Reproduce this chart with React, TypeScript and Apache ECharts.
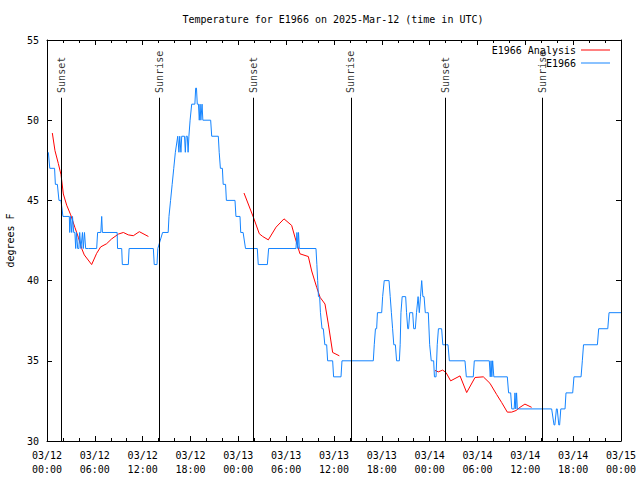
import React, { useEffect, useRef } from 'react';
import * as echarts from 'echarts';

const BASE_UTC = Date.UTC(2025, 2, 12, 0, 0, 0);
const FONT = "'DejaVu Sans Mono', monospace";

const titleText = 'Temperature for E1966 on 2025-Mar-12 (time in UTC)';
const yAxisName = 'degrees F';
const seriesNames = ['E1966 Analysis', 'E1966'];

// Observed temperatures (hours since 03/12 00:00 UTC, degrees F)
const obsHours = [
  0.17, 0.35, 0.95, 1.05, 1.3, 1.5, 1.75, 2.0, 2.8, 2.85, 2.95, 3.1, 3.2, 3.35, 3.5, 3.6, 3.7, 3.85, 4.0, 4.1,
  4.25, 4.45, 4.55, 4.7, 4.85, 5.19, 6.23, 6.35, 6.75, 6.86, 6.95, 8.8, 8.85, 9.37, 9.45, 10.2, 10.3, 13.34, 13.45, 13.8,
  13.9, 14.5, 15.2, 15.3, 15.5, 15.7, 15.9, 16.1, 16.4, 16.55, 16.65, 16.8, 16.9, 17.25, 17.35, 17.45, 17.6, 17.7, 17.8, 17.95,
  18.15, 18.55, 18.65, 18.75, 18.85, 19.0, 19.1, 19.2, 19.3, 19.45, 19.55, 19.69, 20.53, 20.66, 21.49, 21.6, 21.75, 22.0, 22.1, 22.4,
  22.5, 23.58, 23.7, 24.21, 24.3, 24.6, 24.9, 26.38, 26.5, 27.64, 27.8, 31.23, 31.35, 31.45, 31.55, 31.65, 33.74, 33.85, 33.95, 34.05,
  34.2, 34.3, 34.5, 34.66, 34.85, 35.08, 35.2, 35.83, 35.95, 36.88, 37.0, 40.93, 41.05, 41.2, 41.35, 41.45, 41.98, 42.1, 42.3, 42.9,
  43.05, 43.2, 43.35, 43.5, 43.7, 43.85, 44.2, 44.3, 44.4, 44.55, 44.99, 45.1, 45.25, 45.35, 45.5, 45.87, 46.0, 46.2, 46.35, 46.55,
  46.7, 46.85, 47.0, 47.15, 47.3, 47.45, 47.6, 47.83, 48.0, 48.2, 48.5, 48.6, 48.8, 48.95, 49.1, 49.5, 49.65, 50.3, 50.47, 52.43,
  52.6, 53.47, 53.6, 55.48, 55.6, 55.7, 55.8, 55.9, 56.05, 57.74, 57.9, 58.16, 58.3, 58.6, 58.7, 58.8, 58.9, 59.0, 63.3, 63.6,
  63.7, 63.9, 64.0, 64.2, 64.3, 64.45, 64.98, 65.1, 65.94, 66.1, 66.99, 67.15, 67.3, 69.04, 69.2, 70.34, 70.5, 72.0,
];
const obsTemps = [
  48, 47, 47, 46, 46, 45, 45, 44, 44, 43, 44, 43, 44, 43, 43, 42, 43, 42, 42, 43,
  42, 43, 42, 43, 42, 42, 42, 43, 43, 44, 43, 43, 42, 42, 41, 41, 42, 42, 41, 41,
  42, 43, 43, 44, 45, 46, 47, 48, 49, 48, 49, 48, 49, 49, 48, 49, 49, 48, 49, 50,
  51, 51, 52, 52, 51, 51, 50, 51, 50, 51, 50, 50, 50, 49, 49, 48, 47, 47, 46, 46,
  45, 45, 44, 44, 43, 43, 42, 42, 41, 41, 42, 42, 43, 42, 43, 42, 42, 41, 40, 39,
  39, 38, 37, 37, 36, 36, 35, 35, 34, 34, 35, 35, 36, 37, 37, 38, 38, 39, 40, 40,
  39, 38, 37, 36, 36, 35, 35, 36, 38, 39, 39, 38, 37, 37, 38, 38, 37, 37, 38, 39,
  38, 39, 40, 39, 39, 38, 38, 38, 36, 35, 35, 34, 34, 36, 37, 37, 36, 36, 35, 35,
  34, 34, 35, 35, 34, 35, 34, 35, 34, 34, 33, 33, 32, 32, 33, 32, 33, 32, 32, 31,
  31, 32, 32, 31, 31, 32, 32, 33, 33, 34, 34, 35, 36, 36, 37, 37, 38, 38,
];

// Analysis temperatures, three separate runs
const ana1Hours = [0.67, 1.0, 1.42, 1.76, 2.05, 2.47, 2.97, 3.51, 3.93, 4.35, 4.68, 5.6, 6.23, 6.73, 7.48, 8.11, 8.95, 9.58, 10.2, 10.83, 11.58, 12.72];
const ana1Temps = [49.2, 48.1, 47.3, 46.6, 45.4, 44.7, 44.1, 43.3, 42.7, 42.0, 41.6, 41.0, 41.7, 42.1, 42.3, 42.6, 42.9, 43.0, 42.85, 42.8, 43.05, 42.75];
const ana2Hours = [24.71, 25.88, 26.63, 27.06, 27.76, 28.73, 29.73, 30.69, 31.1, 31.73, 32.78, 33.2, 33.83, 34.25, 34.87, 35.29, 35.83, 36.67];
const ana2Temps = [45.46, 43.96, 42.92, 42.75, 42.54, 43.33, 43.85, 43.44, 42.71, 41.67, 41.5, 40.6, 39.58, 38.96, 38.54, 37.29, 35.52, 35.31];
const ana3Hours = [48.67, 49.09, 49.63, 50.05, 50.63, 51.81, 52.64, 53.69, 54.73, 55.56, 56.4, 57.03, 57.74, 58.28, 58.83, 59.33, 59.95, 60.79];
const ana3Temps = [34.4, 34.31, 34.42, 34.27, 33.75, 34.06, 33.02, 33.96, 34.0, 33.6, 32.9, 32.4, 31.8, 31.8, 31.9, 32.1, 32.3, 32.1];

// Sun events
const sunHours = [1.76, 14.07, 25.88, 38.13, 50.0, 62.13];
const sunLabels = ['Sunset', 'Sunrise', 'Sunset', 'Sunrise', 'Sunset', 'Sunrise'];
const sunLineTop = 51.4;
const sunLabelBase = 51.7;

const pad = (n: number) => (n < 10 ? '0' + n : '' + n);
const fmtHour = (h: number) => {
  const d = new Date(BASE_UTC + h * 3600000);
  return `${pad(d.getUTCMonth() + 1)}/${pad(d.getUTCDate())}\n${pad(d.getUTCHours())}:${pad(d.getUTCMinutes())}`;
};

export default function App() {
  const ref = useRef<HTMLDivElement>(null);
  useEffect(() => {
    if (!ref.current) return;
    const chart = echarts.init(ref.current, undefined, { renderer: 'svg' });

    const anaData: any[] = [];
    [[ana1Hours, ana1Temps], [ana2Hours, ana2Temps], [ana3Hours, ana3Temps]].forEach(([hs, ts], i) => {
      if (i > 0) anaData.push([hs[0] - 0.5, null]);
      hs.forEach((h, j) => anaData.push([h, ts[j]]));
    });
    const obsData = obsHours.map((h, i) => [h, obsTemps[i]]);
    const sunData = sunHours.map((h, i) => ({ name: sunLabels[i], value: [h, sunLabelBase] }));
    const sunLines = sunHours.map((h) => [{ coord: [h, 30] }, { coord: [h, sunLineTop] }]);

    const axisCommon = {
      axisLine: { show: true, onZero: false, lineStyle: { color: '#000', width: 1 } },
      splitLine: { show: false },
    };

    chart.setOption({
      animation: false,
      backgroundColor: '#fff',
      textStyle: { fontFamily: FONT },
      title: {
        text: titleText,
        left: 328,
        textAlign: 'center',
        top: 9,
        textStyle: { fontFamily: FONT, fontSize: 10, fontWeight: 'normal', color: '#000' },
      },
      legend: {
        data: seriesNames,
        orient: 'vertical',
        right: 25,
        top: 39,
        align: 'right',
        icon: 'rect',
        itemWidth: 29,
        itemHeight: 1,
        itemGap: 1,
        textStyle: { fontFamily: FONT, fontSize: 10, color: '#000', width: 86, align: 'right', lineHeight: 12 },
      },
      grid: { left: 47, right: 19, top: 40, bottom: 39, containLabel: false, outerBoundsMode: 'none' },
      xAxis: [
        {
          type: 'value', min: 0, max: 72, interval: 6, position: 'bottom',
          ...axisCommon,
          axisTick: { show: true, inside: true, length: 5, lineStyle: { color: '#000' } },
          minorTick: { show: true, splitNumber: 3, length: 3, lineStyle: { color: '#000' } },
          minorSplitLine: { show: false },
          axisLabel: { formatter: fmtHour, color: '#000', fontFamily: FONT, fontSize: 10, lineHeight: 14, margin: 7 },
        },
        {
          type: 'value', min: 0, max: 72, interval: 6, position: 'top',
          ...axisCommon,
          axisTick: { show: true, inside: true, length: 5, lineStyle: { color: '#000' } },
          minorTick: { show: true, splitNumber: 3, length: 3, lineStyle: { color: '#000' } },
          minorSplitLine: { show: false },
          axisLabel: { show: false },
        },
      ],
      yAxis: [
        {
          type: 'value', min: 30, max: 55, interval: 5, position: 'left',
          ...axisCommon,
          axisTick: { show: true, inside: true, length: 5, lineStyle: { color: '#000' } },
          axisLabel: { color: '#000', fontFamily: FONT, fontSize: 10, margin: 8 },
          name: yAxisName,
          nameLocation: 'middle',
          nameGap: 32,
          nameRotate: 90,
          nameTextStyle: { fontFamily: FONT, fontSize: 10, color: '#000' },
        },
        {
          type: 'value', min: 30, max: 55, interval: 5, position: 'right',
          ...axisCommon,
          axisTick: { show: true, inside: true, length: 5, lineStyle: { color: '#000' } },
          axisLabel: { show: false },
        },
      ],
      series: [
        {
          name: seriesNames[0],
          type: 'line',
          xAxisIndex: 0, yAxisIndex: 0,
          symbol: 'none',
          connectNulls: false,
          lineStyle: { color: '#ff0000', width: 1 },
          itemStyle: { color: '#ff0000' },
          data: anaData,
        },
        {
          name: seriesNames[1],
          type: 'line',
          xAxisIndex: 0, yAxisIndex: 0,
          symbol: 'none',
          lineStyle: { color: '#1484ff', width: 1 },
          itemStyle: { color: '#1484ff' },
          data: obsData,
        },
        {
          name: 'sun',
          type: 'scatter',
          xAxisIndex: 0, yAxisIndex: 0,
          symbolSize: 1,
          itemStyle: { color: 'rgba(0,0,0,0)' },
          silent: true,
          label: {
            show: true,
            position: 'inside',
            formatter: (p: any) => p.name,
            rotate: 90,
            align: 'left',
            verticalAlign: 'middle',
            fontFamily: FONT,
            fontSize: 10,
            color: '#000',
          },
          data: sunData,
          markLine: {
            silent: true,
            symbol: ['none', 'none'],
            label: { show: false },
            lineStyle: { color: '#000', width: 1, type: 'solid' },
            data: sunLines,
          },
        },
      ],
    });
    return () => chart.dispose();
  }, []);
  return <div ref={ref} style={{ position: 'fixed', left: 0, top: 0, width: 640, height: 480, background: '#fff' }} />;
}
